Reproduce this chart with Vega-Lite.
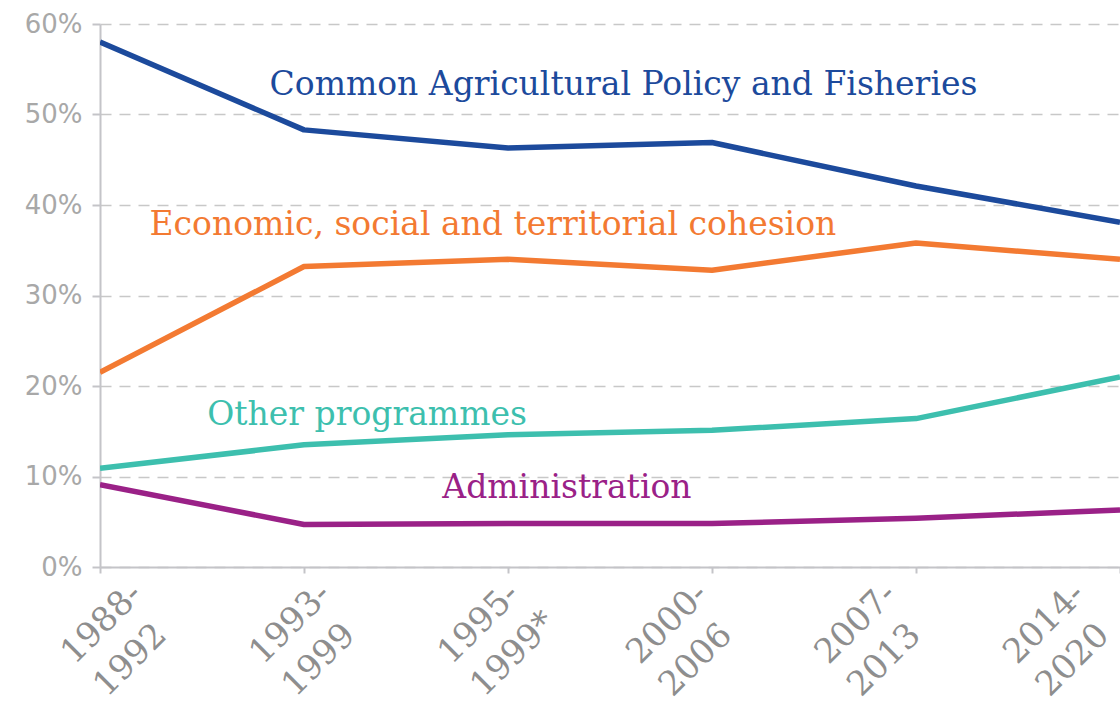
{
  "$schema": "https://vega.github.io/schema/vega-lite/v6.json",
  "autosize": "none",
  "width": 1020,
  "height": 543,
  "padding": {"left": 100, "top": 24, "right": 0, "bottom": 142},
  "background": "white",
  "config": {"view": {"stroke": null}},
  "datasets": {
    "shares": [
      {"i": 0, "period": "1988-1992", "series": "CAP", "value": 58.0},
      {"i": 1, "period": "1993-1999", "series": "CAP", "value": 48.3},
      {"i": 2, "period": "1995-1999*", "series": "CAP", "value": 46.3},
      {"i": 3, "period": "2000-2006", "series": "CAP", "value": 46.9},
      {"i": 4, "period": "2007-2013", "series": "CAP", "value": 42.1},
      {"i": 5, "period": "2014-2020", "series": "CAP", "value": 38.1},
      {"i": 0, "period": "1988-1992", "series": "Cohesion", "value": 21.5},
      {"i": 1, "period": "1993-1999", "series": "Cohesion", "value": 33.2},
      {"i": 2, "period": "1995-1999*", "series": "Cohesion", "value": 34.0},
      {"i": 3, "period": "2000-2006", "series": "Cohesion", "value": 32.8},
      {"i": 4, "period": "2007-2013", "series": "Cohesion", "value": 35.8},
      {"i": 5, "period": "2014-2020", "series": "Cohesion", "value": 34.0},
      {"i": 0, "period": "1988-1992", "series": "Other", "value": 10.9},
      {"i": 1, "period": "1993-1999", "series": "Other", "value": 13.5},
      {"i": 2, "period": "1995-1999*", "series": "Other", "value": 14.6},
      {"i": 3, "period": "2000-2006", "series": "Other", "value": 15.1},
      {"i": 4, "period": "2007-2013", "series": "Other", "value": 16.4},
      {"i": 5, "period": "2014-2020", "series": "Other", "value": 21.0},
      {"i": 0, "period": "1988-1992", "series": "Admin", "value": 9.1},
      {"i": 1, "period": "1993-1999", "series": "Admin", "value": 4.7},
      {"i": 2, "period": "1995-1999*", "series": "Admin", "value": 4.8},
      {"i": 3, "period": "2000-2006", "series": "Admin", "value": 4.8},
      {"i": 4, "period": "2007-2013", "series": "Admin", "value": 5.4},
      {"i": 5, "period": "2014-2020", "series": "Admin", "value": 6.3}
    ],
    "labels": [
      {"i": 2.566, "value": 52.1, "series": "CAP", "text": "Common Agricultural Policy and Fisheries"},
      {"i": 1.926, "value": 36.7, "series": "Cohesion", "text": "Economic, social and territorial cohesion"},
      {"i": 1.309, "value": 15.7, "series": "Other", "text": "Other programmes"},
      {"i": 2.289, "value": 7.6, "series": "Admin", "text": "Administration"}
    ]
  },
  "layer": [
    {
      "data": {"name": "shares"},
      "mark": {"type": "line", "strokeWidth": 5.5, "strokeJoin": "round", "clip": true},
      "encoding": {
        "x": {
          "field": "i", "type": "quantitative",
          "scale": {"domain": [0, 5], "nice": false, "zero": false},
          "axis": {
            "title": null,
            "values": [0, 1, 2, 3, 4, 5],
            "grid": false,
            "domainColor": "#c4c4c8",
            "domainWidth": 2,
            "tickColor": "#c4c4c8",
            "tickWidth": 2,
            "tickSize": 6,
            "labelExpr": "[['1988-','1992'],['1993-','1999'],['1995-','1999*'],['2000-','2006'],['2007-','2013'],['2014-','2020']][datum.value]",
            "labelAngle": -45,
            "labelAlign": "left",
            "labelBaseline": "alphabetic",
            "labelFont": "DejaVu Serif",
            "labelFontSize": 34,
            "labelLineHeight": 46,
            "labelColor": "#8e8e8e",
            "labelPadding": 92,
            "labelOverlap": false,
            "labelFlush": false,
            "labelBound": false,
            "labelOffset": {"expr": "-26 - 15.5 * datum.value"}
          }
        },
        "y": {
          "field": "value", "type": "quantitative",
          "scale": {"domain": [0, 60], "nice": false},
          "axis": {
            "title": null,
            "values": [0, 10, 20, 30, 40, 50, 60],
            "labelExpr": "datum.value + '%'",
            "labelFont": "DejaVu Sans",
            "labelFontSize": 26,
            "labelColor": "#a8a8a8",
            "labelPadding": 10,
            "tickSize": 8,
            "tickColor": "#c4c4c8",
            "tickWidth": 2,
            "domainColor": "#c4c4c8",
            "domainWidth": 2,
            "grid": true,
            "gridColor": "#c8c8c8",
            "gridDash": [11, 8],
            "gridWidth": 1.5,
            "labelFlush": false,
            "labelOverlap": false
          }
        },
        "color": {
          "field": "series", "type": "nominal",
          "scale": {"domain": ["CAP", "Cohesion", "Other", "Admin"], "range": ["#1c4a9c", "#f37a32", "#3dbfae", "#9a2187"]},
          "legend": null
        },
        "order": {"field": "i", "type": "quantitative"}
      }
    },
    {
      "data": {"name": "labels"},
      "mark": {"type": "text", "font": "DejaVu Serif", "fontSize": 33, "align": "center", "baseline": "alphabetic"},
      "encoding": {
        "x": {"field": "i", "type": "quantitative"},
        "y": {"field": "value", "type": "quantitative"},
        "text": {"field": "text"},
        "color": {"field": "series", "type": "nominal", "legend": null}
      }
    }
  ]
}
